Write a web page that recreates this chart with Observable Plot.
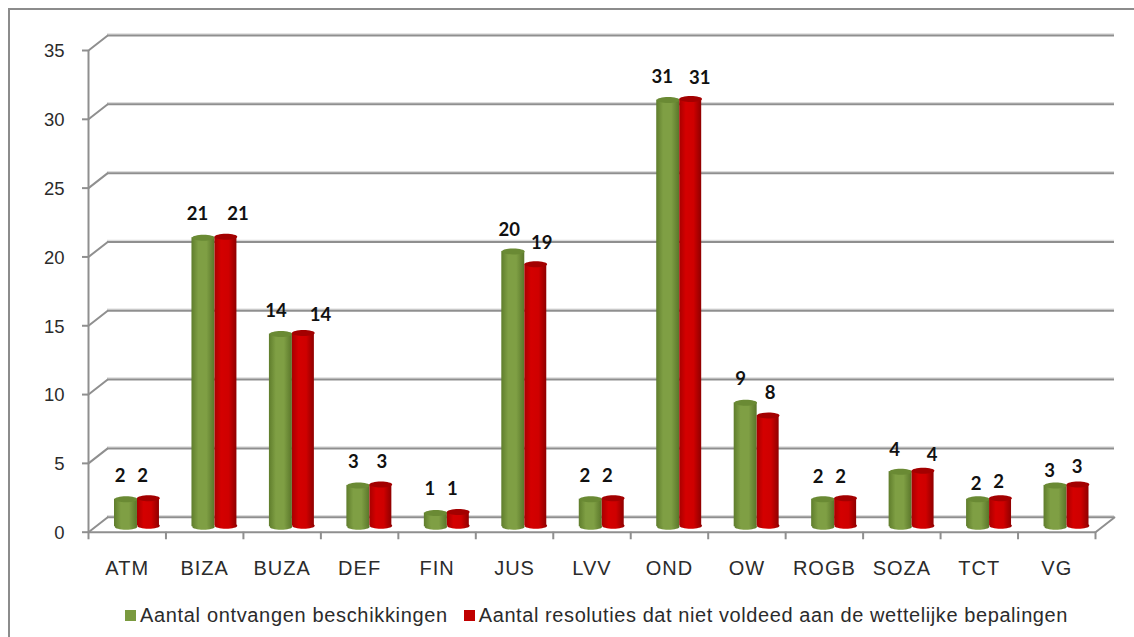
<!DOCTYPE html>
<html><head><meta charset="utf-8">
<script src="https://cdn.jsdelivr.net/npm/d3@7"></script>
<script src="https://cdn.jsdelivr.net/npm/@observablehq/plot@0.6"></script>
<style>
html,body{margin:0;background:#fff;overflow:hidden}
#frame{position:absolute;left:8px;top:8px;width:1200px;height:700px;border:2px solid #8c8c8c;box-sizing:border-box}
#chart{position:absolute;left:0;top:0}
#legend{position:absolute;left:125px;top:604px;font:20px "Liberation Sans",Arial,sans-serif;letter-spacing:.66px;color:#2b2b2b;display:flex;align-items:center;white-space:nowrap}
#legend i{display:inline-block;width:11px;height:11px;margin-right:4px}
#legend span{margin-right:16px}
#legend span+i+span{letter-spacing:.58px}
</style></head><body>
<div id="frame"></div>
<div id="chart"></div>
<div id="legend"><i style="background:#7a9a3f"></i><span>Aantal ontvangen beschikkingen</span><i style="background:#c00000"></i><span>Aantal resoluties dat niet voldeed aan de wettelijke bepalingen</span></div>
<script>
const categories = ["ATM","BIZA","BUZA","DEF","FIN","JUS","LVV","OND","OW","ROGB","SOZA","TCT","VG"];
const ontvangen = [2,21,14,3,1,20,2,31,9,2,4,2,3];
const resoluties = [2,21,14,3,1,19,2,31,8,2,4,2,3];
const yTicks = [0,5,10,15,20,25,30,35];

// label nudges (px) per category: green dx, dy, red dx, dy
const nudge = {ATM:[-6,-29,-6,-29],BIZA:[-6,-29,12,-29],BUZA:[-5,-28,17,-24],DEF:[-5,-29,1,-29],FIN:[-6,-29,-6,-29],JUS:[-4,-27,6,-28],LVV:[-6,-29,-6,-29],OND:[-6,-28,9,-27],OW:[-5,-29,2,-29],ROGB:[-5,-28,-5,-28],SOZA:[-6,-27,9,-22],TCT:[-2,-21,-2,-23],VG:[-6,-20,-1,-24]};

const band = 1007 / categories.length;
const greenDx = -1.2, redDx = 21.3;
const rows = s => categories.map((c,i)=>({c, v:s[i]}));
const green = rows(ontvangen), red = rows(resoluties);

const ellipse = (rx, ry) => ({draw(ctx){
  const k = 0.5523;
  ctx.moveTo(-rx,0);
  ctx.bezierCurveTo(-rx,-ry*k,-rx*k,-ry,0,-ry);
  ctx.bezierCurveTo(rx*k,-ry,rx,-ry*k,rx,0);
  ctx.bezierCurveTo(rx,ry*k,rx*k,ry,0,ry);
  ctx.bezierCurveTo(-rx*k,ry,-rx,ry*k,-rx,0);
  ctx.closePath();
}});
const slant = {draw(ctx,l){ctx.moveTo(0,0);ctx.lineTo(0,-l);}};
const grey = "#8f8f8f";

const cylinder = (data, dx, dy, grad, top, inL, inR) => [
  Plot.dot(data,{x:"c",y:()=>0,dx,dy,symbol:ellipse(11.3,3),r:5,fill:`url(#${grad})`,stroke:"none"}),
  Plot.barY(data,{x:"c",y:"v",dy,insetLeft:inL,insetRight:inR,fill:`url(#${grad})`}),
  Plot.dot(data,{x:"c",y:"v",dx,dy,symbol:ellipse(11.3,3),r:5,fill:top,stroke:"none"})
];
const labels = (data, idx) => categories.map((c,i)=>Plot.text([data[i]],{
  x:"c",y:"v",text:d=>String(d.v),
  dx:(idx?redDx:greenDx)+nudge[c][idx?2:0],dy:nudge[c][idx?3:1],
  fontFamily:"Lato",fontWeight:700,fontSize:18.5,fill:"#111"}));

const plot = Plot.plot({
  width:1134,height:600,
  marginLeft:88,marginRight:39,marginTop:50,marginBottom:68.3,
  style:{background:"transparent",fontFamily:"Liberation Sans",overflow:"visible"},
  x:{type:"band",domain:categories,padding:0,round:false,label:null},
  y:{domain:[0,35],label:null},
  marks:[
    Plot.ruleY(yTicks,{dx:19,dy:-16.5,stroke:"#dcdcdc",strokeWidth:1.5}),
    Plot.ruleY(yTicks,{dx:19,dy:-15,stroke:grey,strokeWidth:2}),
    Plot.vector(yTicks,{x:()=>categories[0],y:d=>d,dx:-band/2,length:24,rotate:52,anchor:"start",shape:slant,stroke:grey,strokeWidth:2}),
    Plot.vector([0],{x:()=>categories[12],y:d=>d,dx:band/2,length:24,rotate:52,anchor:"start",shape:slant,stroke:grey,strokeWidth:2}),
    Plot.ruleX([categories[0]],{dx:-band/2,stroke:grey,strokeWidth:2}),
    Plot.ruleY([0],{stroke:grey,strokeWidth:2}),
    Plot.ruleX(categories,{x:d=>d,y1:0,y2:-0.55,dx:-band/2,stroke:grey,strokeWidth:2}),
    Plot.ruleX([categories[12]],{x:d=>d,y1:0,y2:-0.55,dx:band/2,stroke:grey,strokeWidth:2}),
    Plot.axisY(yTicks,{tickSize:6,stroke:grey,strokeWidth:2,text:null,label:null}),
    Plot.text(yTicks,{x:()=>categories[0],y:d=>d,text:d=>String(d),dx:-band/2-24,dy:1,textAnchor:"end",fontSize:18.5,fill:"#2b2b2b"}),
    Plot.axisX(categories,{tickSize:0,tickPadding:29,fontSize:20,color:"#2b2b2b",label:null}),
    ...cylinder(green,greenDx,-5.5,"g",  "#6a8a34",26,28.5),
    ...cylinder(red,redDx,-6.5,"r","#a30000",49,6.5),
    ...labels(green,0),
    ...labels(red,1)
  ]
});
const defs = d3.select(plot).insert("defs",":first-child");
const grad = (id,stops)=>{const g=defs.append("linearGradient").attr("id",id).attr("x1",0).attr("x2",1).attr("y1",0).attr("y2",0);
  stops.forEach(([o,c])=>g.append("stop").attr("offset",o).attr("stop-color",c));};
grad("g",[[0,"#5f7d2c"],[0.3,"#7f9f44"],[0.65,"#7f9f44"],[1,"#5a762a"]]);
grad("r",[[0,"#a80000"],[0.3,"#d40000"],[0.65,"#cf0000"],[1,"#8f0000"]]);
d3.select(plot).selectAll("text").filter(function(){return categories.includes(this.textContent)}).style("letter-spacing","1px");
document.getElementById("chart").append(plot);
</script>
</body></html>
